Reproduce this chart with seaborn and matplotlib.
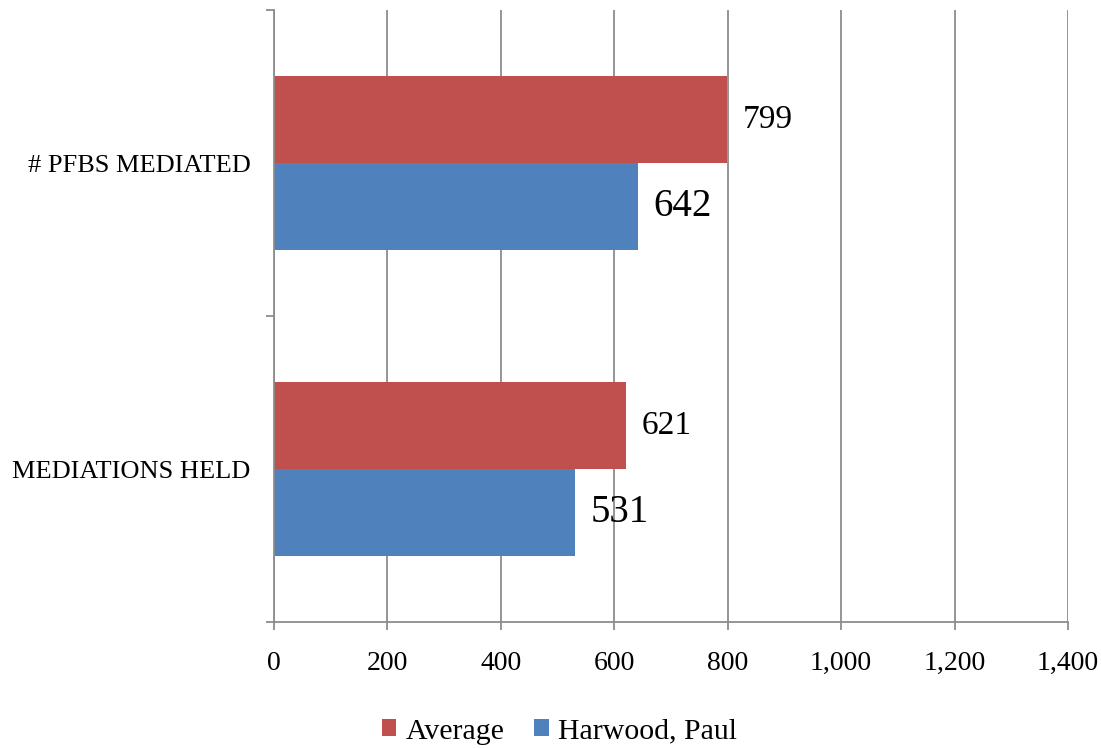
import pandas as pd
import matplotlib.pyplot as plt
import seaborn as sns
from matplotlib.ticker import FuncFormatter

# Data
categories = ['# PFBS MEDIATED', 'MEDIATIONS HELD']
series_names = ['Average', 'Harwood, Paul']
average_vals = [799, 621]
harwood_vals = [642, 531]
x_ticks = [0, 200, 400, 600, 800, 1000, 1200, 1400]
colors = ['#C0504D', '#4F81BD']

df = pd.DataFrame({
    'category': categories * 2,
    'series': [series_names[0]] * 2 + [series_names[1]] * 2,
    'value': average_vals + harwood_vals,
})

sns.set_style('white')
plt.rcParams['font.family'] = ['Liberation Serif', 'DejaVu Serif']
plt.rcParams['text.color'] = 'black'
plt.rcParams['xtick.labelcolor'] = 'black'
plt.rcParams['ytick.labelcolor'] = 'black'

fig = plt.figure(figsize=(11.01, 7.48), dpi=100)
ax = fig.add_axes([0.2489, 0.1684, 0.7211, 0.8182])

sns.barplot(data=df, x='value', y='category', hue='series', order=categories,
            hue_order=series_names, palette=colors, orient='h', width=0.57,
            saturation=1, linewidth=0, ax=ax, legend=True)

# Value labels (Harwood labels are drawn larger, as in the original)
for container, size in zip(ax.containers, [24, 28]):
    ax.bar_label(container, fmt='%d', padding=11, fontsize=size, color='black')

grid_color = '#8c8c8c'
ax.set_xlim(0, 1400)
ax.set_ylim(1.5, -0.5)
ax.set_xticks(x_ticks)
ax.xaxis.set_major_formatter(FuncFormatter(lambda v, p: f'{int(v):,}'))
ax.grid(axis='x', color=grid_color, linewidth=1.3)
ax.set_axisbelow(True)
ax.tick_params(axis='x', length=6, color=grid_color, width=1.3, labelsize=20, pad=15, direction='out', bottom=True)
ax.set_yticks([-0.5, 0.5, 1.5], minor=True)
ax.tick_params(axis='y', which='major', length=0, labelsize=19, pad=17)
ax.tick_params(axis='y', which='minor', length=6, color=grid_color, width=1.3, direction='out', left=True)
ax.set_xlabel('')
ax.set_ylabel('')
for side in ['top', 'right']:
    ax.spines[side].set_visible(False)
for side in ['left', 'bottom']:
    ax.spines[side].set_color(grid_color)
    ax.spines[side].set_linewidth(1.3)

handles, labels = ax.get_legend_handles_labels()
ax.get_legend().remove()
fig.legend(handles, labels, loc='center', bbox_to_anchor=(0.508, 0.022), ncol=2,
           frameon=False, fontsize=21.5, handlelength=0.5, handleheight=0.5,
           handletextpad=0.3, columnspacing=1.0)

fig.savefig('out.png', dpi=100)
